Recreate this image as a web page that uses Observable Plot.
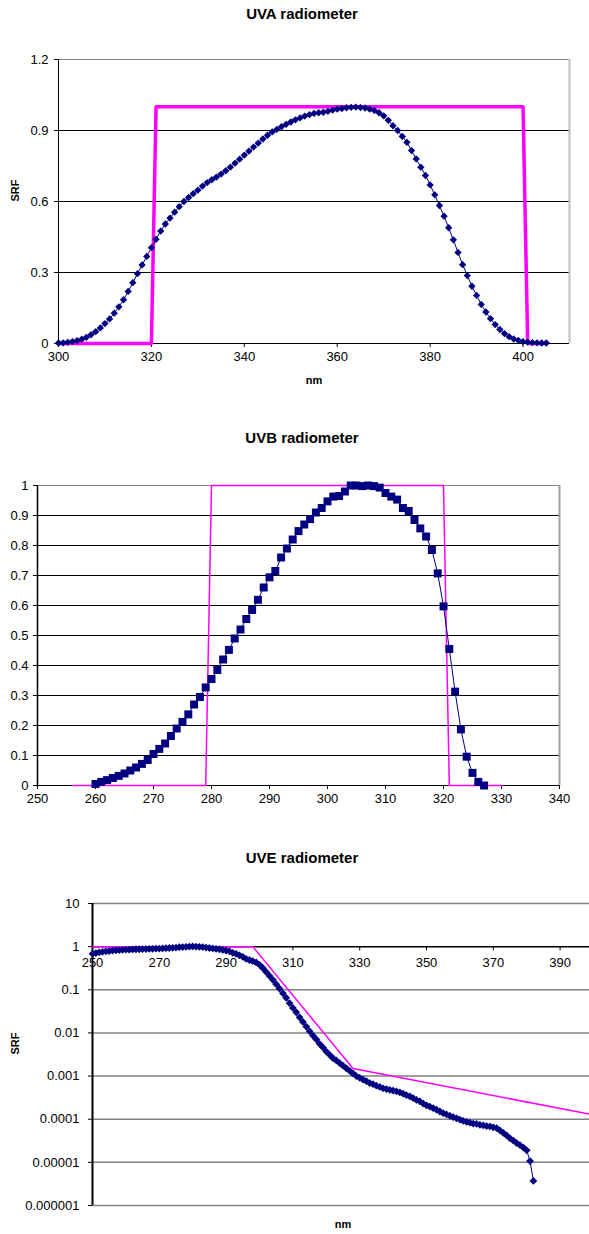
<!DOCTYPE html>
<html><head><meta charset="utf-8">
<script src="https://cdn.jsdelivr.net/npm/d3@7"></script>
<script src="https://cdn.jsdelivr.net/npm/@observablehq/plot@0.6"></script>
<style>
html,body{margin:0;padding:0;background:#fff;overflow:hidden;width:589px;height:1234px}
#wrap{position:relative;width:589px;height:1234px;font-family:"Liberation Sans",Arial,sans-serif}
.title{position:absolute;left:0;width:604px;text-align:center;font-weight:bold;font-size:15px;line-height:17px;color:#000}
.chart{position:absolute;left:0}
.chart svg{max-width:none !important}
</style></head><body><div id="wrap">
<div class="title" style="top:5px">UVA radiometer</div>
<div class="title" style="top:429px">UVB radiometer</div>
<div class="title" style="top:849px">UVE radiometer</div>
<div class="chart" id="ca" style="top:0"></div>
<div class="chart" id="cb" style="top:420px"></div>
<div class="chart" id="cc" style="top:840px"></div>
</div>
<script>
// ---------- UVA ----------
const uvaNm = [300,301,302,303,304,305,306,307,308,309,310,311,312,313,314,315,316,317,318,319,320,321,322,323,324,325,326,327,328,329,330,331,332,333,334,335,336,337,338,339,340,341,342,343,344,345,346,347,348,349,350,351,352,353,354,355,356,357,358,359,360,361,362,363,364,365,366,367,368,369,370,371,372,373,374,375,376,377,378,379,380,381,382,383,384,385,386,387,388,389,390,391,392,393,394,395,396,397,398,399,400,401,402,403,404,405];
const uvaSrf = [0.002,0.003,0.005,0.008,0.012,0.018,0.026,0.037,0.05,0.066,0.084,0.104,0.128,0.155,0.185,0.22,0.257,0.295,0.332,0.368,0.405,0.44,0.475,0.505,0.53,0.555,0.578,0.6,0.617,0.633,0.648,0.665,0.68,0.692,0.703,0.716,0.73,0.745,0.762,0.779,0.796,0.813,0.83,0.847,0.864,0.88,0.894,0.905,0.916,0.926,0.936,0.945,0.953,0.961,0.967,0.972,0.975,0.977,0.981,0.986,0.99,0.993,0.996,0.998,0.999,0.997,0.995,0.99,0.984,0.975,0.962,0.943,0.92,0.9,0.875,0.85,0.815,0.78,0.745,0.71,0.67,0.628,0.583,0.538,0.489,0.438,0.385,0.333,0.287,0.242,0.203,0.165,0.133,0.105,0.08,0.059,0.042,0.029,0.019,0.013,0.008,0.006,0.004,0.003,0.002,0.002];
const uvaRefNm = [300,320,321,400,401,405];
const uvaRefSrf = [0,0,1,1,0,0];
const uvaXTicks = [300,320,340,360,380,400];
const uvaYTicks = [0,0.3,0.6,0.9,1.2];
const uvaYLabels = ["0","0.3","0.6","0.9","1.2"];

// ---------- UVB ----------
const uvbNm = [260,261,262,263,264,265,266,267,268,269,270,271,272,273,274,275,276,277,278,279,280,281,282,283,284,285,286,287,288,289,290,291,292,293,294,295,296,297,298,299,300,301,302,303,304,305,306,307,308,309,310,311,312,313,314,315,316,317,318,319,320,321,322,323,324,325,326,327];
const uvbSrf = [0.005,0.012,0.018,0.025,0.032,0.04,0.05,0.06,0.072,0.085,0.105,0.122,0.14,0.165,0.19,0.212,0.237,0.27,0.295,0.327,0.355,0.385,0.42,0.452,0.49,0.52,0.555,0.585,0.619,0.66,0.694,0.715,0.76,0.79,0.82,0.848,0.87,0.888,0.91,0.925,0.947,0.963,0.965,0.98,1.0,1.0,0.998,1.0,0.998,0.993,0.975,0.963,0.953,0.925,0.915,0.885,0.857,0.83,0.785,0.707,0.597,0.455,0.313,0.187,0.096,0.042,0.012,0.0];
const uvbRefNm = [256,279,280,320,321,330];
const uvbRefSrf = [0,0,1,1,0,0];
const uvbXTicks = [250,260,270,280,290,300,310,320,330,340];
const uvbYTicks = [0,0.1,0.2,0.3,0.4,0.5,0.6,0.7,0.8,0.9,1];
const uvbYLabels = ["0","0.1","0.2","0.3","0.4","0.5","0.6","0.7","0.8","0.9","1"];

// ---------- UVE ----------
const uveNm = [250,251,252,253,254,255,256,257,258,259,260,261,262,263,264,265,266,267,268,269,270,271,272,273,274,275,276,277,278,279,280,281,282,283,284,285,286,287,288,289,290,291,292,293,294,295,296,297,298,299,300,301,302,303,304,305,306,307,308,309,310,311,312,313,314,315,316,317,318,319,320,321,322,323,324,325,326,327,328,329,330,331,332,333,334,335,336,337,338,339,340,341,342,343,344,345,346,347,348,349,350,351,352,353,354,355,356,357,358,359,360,361,362,363,364,365,366,367,368,369,370,371,372,373,374,375,376,377,378,379,380,381,382];
const uveSrf = [0.68,0.71,0.74,0.76,0.78,0.79,0.81,0.82,0.83,0.84,0.85,0.85,0.86,0.87,0.87,0.88,0.88,0.89,0.89,0.9,0.9,0.91,0.92,0.93,0.94,0.95,0.97,0.98,0.99,1.0,1.01,1.0,0.99,0.98,0.95,0.93,0.91,0.89,0.87,0.84,0.81,0.78,0.72,0.68,0.63,0.58,0.52,0.49,0.46,0.43,0.38,0.32,0.26,0.21,0.17,0.135,0.107,0.083,0.065,0.049,0.038,0.03,0.023,0.018,0.014,0.011,8.7e-3,7.1e-3,5.6e-3,4.6e-3,3.7e-3,3.1e-3,2.6e-3,2.3e-3,2.0e-3,1.74e-3,1.51e-3,1.32e-3,1.15e-3,1.0e-3,9.1e-4,8.3e-4,7.6e-4,6.9e-4,6.5e-4,6.0e-4,5.6e-4,5.2e-4,5.0e-4,4.8e-4,4.6e-4,4.4e-4,4.2e-4,3.9e-4,3.6e-4,3.4e-4,3.1e-4,2.8e-4,2.6e-4,2.3e-4,2.1e-4,1.95e-4,1.8e-4,1.66e-4,1.51e-4,1.38e-4,1.29e-4,1.2e-4,1.12e-4,1.05e-4,9.8e-5,9.1e-5,8.7e-5,8.3e-5,7.9e-5,7.8e-5,7.4e-5,7.2e-5,6.9e-5,6.8e-5,6.5e-5,6.2e-5,5.5e-5,4.8e-5,4.2e-5,3.6e-5,3.2e-5,2.8e-5,2.5e-5,2.2e-5,1.9e-5,1.07e-5,3.7e-6];
const uveRefNm = [250,298,328,400];
const uveRefSrf = [1,1,0.0015,0.000126];
const uveXTicks = [250,270,290,310,330,350,370,390];
const uveYTicks = [10,1,0.1,0.01,0.001,0.0001,0.00001,0.000001];
const uveYLabels = ["10","1","0.1","0.01","0.001","0.0001","0.00001","0.000001"];

const navy = "#000080", magenta = "#FF00FF";
const font = '"Liberation Sans", Arial, sans-serif';
const zip = (xs, ys) => xs.map((x, i) => ({x, y: ys[i]}));
const fmt = (ticks, labels) => { const m = new Map(ticks.map((t, i) => [t, labels[i]])); return d => m.get(d) ?? String(d); };
const baseStyle = {fontFamily: font, fontSize: "13px", color: "#000", background: "transparent", overflow: "hidden"};

const uva = zip(uvaNm, uvaSrf), uvaRef = zip(uvaRefNm, uvaRefSrf);
const uvb = zip(uvbNm, uvbSrf), uvbRef = zip(uvbRefNm, uvbRefSrf);
const uve = zip(uveNm, uveSrf), uveRef = zip(uveRefNm, uveRefSrf);

const A = Plot.plot({
  width: 589, height: 400,
  marginLeft: 58, marginRight: 20, marginTop: 59, marginBottom: 57,
  style: baseStyle,
  x: {domain: [300, 410]},
  y: {domain: [0, 1.2]},
  marks: [
    Plot.ruleY([0.3, 0.6, 0.9], {stroke: "#000", strokeWidth: 1}),
    Plot.ruleY([1.2], {stroke: "#808080", strokeWidth: 1}),
    Plot.ruleX([410], {stroke: "#c0c0c0", strokeWidth: 2}),
    Plot.ruleX([300], {stroke: "#000", strokeWidth: 1}),
    Plot.ruleY([0], {stroke: "#000", strokeWidth: 1}),
    Plot.axisX({ticks: uvaXTicks, tickSize: 4, tickPadding: 4, label: null, tickFormat: d => String(d)}),
    Plot.axisY({ticks: uvaYTicks, tickSize: 4, tickPadding: 6, label: null, tickFormat: fmt(uvaYTicks, uvaYLabels)}),
    Plot.line(uvaRef, {x: "x", y: "y", stroke: magenta, strokeWidth: 3.5}),
    Plot.line(uva, {x: "x", y: "y", stroke: navy, strokeWidth: 1}),
    Plot.dot(uva, {x: "x", y: "y", symbol: "diamond2", r: 3.3, fill: navy}),
    Plot.text(["nm"], {frameAnchor: "bottom", text: d => d, dy: 40, fontWeight: "bold", fontSize: 11}),
    Plot.text(["SRF"], {frameAnchor: "left", text: d => d, dx: -43, rotate: -90, fontWeight: "bold", fontSize: 11})
  ]
});
document.getElementById("ca").append(A);

const B = Plot.plot({
  width: 589, height: 400,
  marginLeft: 37, marginRight: 30, marginTop: 65, marginBottom: 35,
  style: baseStyle,
  x: {domain: [250, 340]},
  y: {domain: [0, 1]},
  marks: [
    Plot.ruleY([0.1, 0.2, 0.3, 0.4, 0.5, 0.6, 0.7, 0.8, 0.9], {stroke: "#000", strokeWidth: 1}),
    Plot.ruleY([1], {stroke: "#808080", strokeWidth: 1}),
    Plot.ruleX([340], {stroke: "#a0a0a0", strokeWidth: 2}),
    Plot.ruleX([250], {stroke: "#000", strokeWidth: 1.5}),
    Plot.ruleY([0], {stroke: "#000", strokeWidth: 1}),
    Plot.axisX({ticks: uvbXTicks, tickSize: 4, tickPadding: 4, label: null, tickFormat: d => String(d)}),
    Plot.axisY({ticks: uvbYTicks, tickSize: 4, tickPadding: 5, label: null, tickFormat: fmt(uvbYTicks, uvbYLabels)}),
    Plot.line(uvbRef, {x: "x", y: "y", stroke: magenta, strokeWidth: 1.5}),
    Plot.line(uvb, {x: "x", y: "y", stroke: navy, strokeWidth: 1}),
    Plot.dot(uvb, {x: "x", y: "y", symbol: "square", r: 4.5, fill: navy})
  ]
});
document.getElementById("cb").append(B);

const C = Plot.plot({
  width: 593, height: 394,
  marginLeft: 92, marginRight: 0, marginTop: 63, marginBottom: 29,
  style: baseStyle,
  x: {domain: [250, 400], axis: null},
  y: {type: "log", domain: [0.000001, 10]},
  marks: [
    Plot.ruleY([10, 0.1, 0.01, 0.001, 0.0001, 0.00001, 0.000001], {stroke: "#808080", strokeWidth: 1.5}),
    Plot.ruleY([1], {stroke: "#000", strokeWidth: 1.5}),
    Plot.ruleX([250], {stroke: "#000", strokeWidth: 2}),
    Plot.axisY({ticks: uveYTicks, tickSize: 4, tickPadding: 9, label: null, tickFormat: fmt(uveYTicks, uveYLabels)}),
    Plot.ruleX(uveXTicks, {x: d => d, y1: 1, y2: 0.8, stroke: "#000"}),
    Plot.text(uveXTicks, {x: d => d, y: 1, dy: 16, text: d => String(d)}),
    Plot.line(uveRef, {x: "x", y: "y", stroke: magenta, strokeWidth: 1.5}),
    Plot.line(uve, {x: "x", y: "y", stroke: navy, strokeWidth: 1}),
    Plot.dot(uve, {x: "x", y: "y", symbol: "diamond2", r: 3.5, fill: navy}),
    Plot.text(["nm"], {frameAnchor: "bottom", text: d => d, dy: 22, fontWeight: "bold", fontSize: 11}),
    Plot.text(["SRF"], {frameAnchor: "left", text: d => d, dx: -77, rotate: -90, fontWeight: "bold", fontSize: 11})
  ]
});
document.getElementById("cc").append(C);
</script>
</body></html>
